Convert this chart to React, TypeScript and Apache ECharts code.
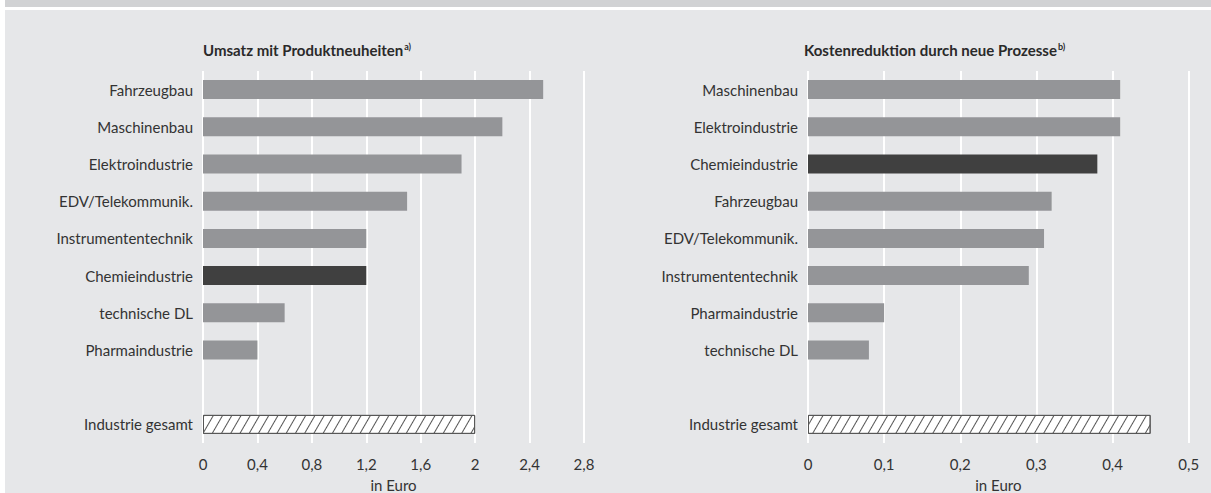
import React, { useEffect, useRef } from "react";
import * as echarts from "echarts";

const leftCategories = [
  "Fahrzeugbau",
  "Maschinenbau",
  "Elektroindustrie",
  "EDV/Telekommunik.",
  "Instrumententechnik",
  "Chemieindustrie",
  "technische DL",
  "Pharmaindustrie",
  "",
  "Industrie gesamt",
];
const leftValues: (number | string)[] = [2.5, 2.2, 1.9, 1.5, 1.2, 1.2, 0.6, 0.4, "-", 2.0];

const rightCategories = [
  "Maschinenbau",
  "Elektroindustrie",
  "Chemieindustrie",
  "Fahrzeugbau",
  "EDV/Telekommunik.",
  "Instrumententechnik",
  "Pharmaindustrie",
  "technische DL",
  "",
  "Industrie gesamt",
];
const rightValues: (number | string)[] = [0.41, 0.41, 0.38, 0.32, 0.31, 0.29, 0.1, 0.08, "-", 0.45];

const leftTitle = "Umsatz mit Produktneuheiten";
const leftNote = "a)";
const rightTitle = "Kostenreduktion durch neue Prozesse";
const rightNote = "b)";
const axisName = "in Euro";
const highlightCategory = "Chemieindustrie";
const totalCategory = "Industrie gesamt";

const FONT = "Lato, 'Noto Sans', sans-serif";
const GRAY = "#949598";
const DARK = "#404040";
const TEXT = "#333333";

function fmt(v: number) {
  return String(Number(v.toFixed(2))).replace(".", ",");
}

function buildData(cats: string[], vals: (number | string)[]) {
  return cats.map((c, i) => {
    const v = vals[i];
    if (c === totalCategory) {
      return {
        value: v,
        itemStyle: {
          color: "#ffffff",
          borderColor: "#555555",
          borderWidth: 1,
          decal: {
            symbol: "rect",
            symbolSize: 1,
            dashArrayX: [1, 0],
            dashArrayY: [1, 6.6],
            rotation: -Math.PI / 3,
            color: "#555555",
          },
        },
      };
    }
    return {
      value: v,
      itemStyle: { color: c === highlightCategory ? DARK : GRAY },
    };
  });
}

export default function App() {
  const ref = useRef<HTMLDivElement>(null);

  useEffect(() => {
    if (!ref.current) return;
    const chart = echarts.init(ref.current, undefined, { renderer: "svg" });

    const titleStyle = {
      rich: {
        t: { fontSize: 15, fontWeight: "bold", fontFamily: FONT, color: "#2a2a2a", lineHeight: 18 },
        s: { fontSize: 9, fontWeight: "bold", fontFamily: FONT, color: "#2a2a2a", verticalAlign: "top", lineHeight: 18, padding: [1, 0, 0, 1] },
      },
    };

    const xAxisBase = (max: number, interval: number) => ({
      type: "value",
      min: 0,
      max,
      interval,
      axisLine: { show: false },
      axisTick: { show: false },
      splitLine: { show: true, lineStyle: { color: "#ffffff", width: 2 } },
      axisLabel: {
        color: TEXT,
        fontSize: 15,
        fontFamily: FONT,
        margin: 13,
        formatter: (v: number) => fmt(v),
      },
      name: axisName,
      nameLocation: "middle",
      nameGap: 34,
      nameTextStyle: { color: TEXT, fontSize: 15, fontFamily: FONT },
    });

    const yAxisBase = (cats: string[]) => ({
      type: "category",
      data: cats,
      inverse: true,
      axisLine: { show: false },
      axisTick: { show: false },
      splitLine: { show: false },
      axisLabel: { color: TEXT, fontSize: 15, fontFamily: FONT, margin: 10 },
    });

    chart.setOption({
      animation: false,
      backgroundColor: "transparent",
      title: [
        { text: `{t|${leftTitle}}{s|${leftNote}}`, left: 203, top: 41, padding: 0, textStyle: titleStyle },
        { text: `{t|${rightTitle}}{s|${rightNote}}`, left: 804, top: 41, padding: 0, textStyle: titleStyle },
      ],
      grid: [
        { left: 203, width: 381, top: 71, height: 372, containLabel: false, outerBoundsMode: "none" },
        { left: 808, width: 380.7, top: 71, height: 372, containLabel: false, outerBoundsMode: "none" },
      ],
      xAxis: [
        { ...xAxisBase(2.8, 0.4), gridIndex: 0 },
        { ...xAxisBase(0.5, 0.1), gridIndex: 1 },
      ],
      yAxis: [
        { ...yAxisBase(leftCategories), gridIndex: 0 },
        { ...yAxisBase(rightCategories), gridIndex: 1 },
      ],
      series: [
        {
          type: "bar",
          xAxisIndex: 0,
          yAxisIndex: 0,
          barWidth: 19,
          data: buildData(leftCategories, leftValues),
        },
        {
          type: "bar",
          xAxisIndex: 1,
          yAxisIndex: 1,
          barWidth: 19,
          data: buildData(rightCategories, rightValues),
        },
      ],
    });

    return () => chart.dispose();
  }, []);

  return (
    <div style={{ position: "fixed", left: 0, top: 0, width: 1211, height: 493, background: "#ffffff", overflow: "hidden" }}>
      <div style={{ position: "absolute", left: 5, top: 0, width: 1206, height: 7, background: "#d1d2d4" }} />
      <div style={{ position: "absolute", left: 5, top: 10, width: 1206, height: 483, background: "#e6e7e9" }} />
      <div ref={ref} style={{ position: "absolute", left: 0, top: 0, width: 1211, height: 493 }} />
    </div>
  );
}
